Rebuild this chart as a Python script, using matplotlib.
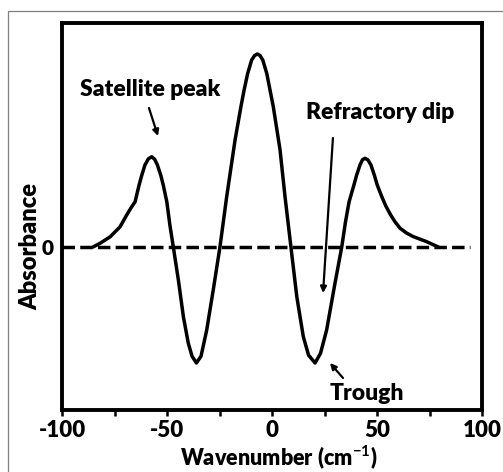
import matplotlib.pyplot as plt
from matplotlib.patches import Rectangle

# Curva de absorbancia (unidades arbitrarias, pico central ~ 1)
wavenumber = [-85.2, -81.9, -77.1, -72.4, -69.2, -67.2, -65.2, -63.3, -62.0, -60.5,
              -58.9, -57.3, -55.9, -54.6, -53.0, -51.8, -50.1, -48.6, -47.0, -44.6,
              -42.2, -39.9, -38.1, -36.0, -33.8, -31.1, -28.0, -24.8, -21.6, -17.6,
              -14.8, -13.3, -11.6, -9.7, -8.3, -7.0, -5.7, -4.4, -2.5, -0.95,
              0.6, 3.8, 6.2, 9.0, 11.8, 14.9, 17.4, 20.5, 23.1, 26.0,
              30.0, 33.2, 35.0, 36.7, 39.0, 40.3, 41.9, 43.1, 44.3, 45.7,
              47.1, 48.7, 50.1, 52.2, 54.2, 56.2, 58.5, 61.0, 64.0, 67.3,
              70.5, 73.7, 76.5, 79.2]
absorbance = [0.0, 0.019, 0.052, 0.103, 0.164, 0.20, 0.232, 0.318, 0.369, 0.421,
              0.452, 0.463, 0.450, 0.421, 0.369, 0.318, 0.232, 0.11, 0.0, -0.169,
              -0.358, -0.492, -0.56, -0.595, -0.56, -0.426, -0.221, 0.0, 0.257, 0.549,
              0.72, 0.805, 0.89, 0.959, 0.982, 0.99, 0.982, 0.959, 0.89, 0.805,
              0.72, 0.5, 0.257, 0.0, -0.255, -0.46, -0.555, -0.595, -0.545, -0.426,
              -0.185, 0.0, 0.13, 0.232, 0.318, 0.369, 0.421, 0.448, 0.455, 0.446,
              0.421, 0.369, 0.318, 0.26, 0.21, 0.17, 0.13, 0.096, 0.072, 0.053,
              0.04, 0.027, 0.013, 0.0]

xticks = [-100, -50, 0, 50, 100]
xticks_minor = [-75, -25, 25, 75]
baseline_x = [-100, 94.3]
baseline_y = [0, 0]

fuente = 'Lato'
peso = 'heavy'
plt.rcParams['mathtext.fontset'] = 'custom'
plt.rcParams['mathtext.bf'] = 'Lato:bold'
plt.rcParams['mathtext.rm'] = 'Lato:bold'

fig = plt.figure(figsize=(5.03, 4.72), dpi=100)
ax = fig.add_axes([0.1233, 0.1314, 0.835, 0.8199])

# marco gris exterior
fig.patches.append(Rectangle((8 / 503, -0.05), 1.1, 1 - 11 / 472 + 0.05,
                             transform=fig.transFigure, fill=False,
                             edgecolor='#808080', linewidth=0.9))

lw = 2.5
ax.plot(baseline_x, baseline_y, color='black', linewidth=lw,
        linestyle=(0, (3.6, 1.5)), dash_capstyle='butt')
ax.plot(wavenumber, absorbance, color='black', linewidth=lw,
        solid_joinstyle='round', solid_capstyle='round')

ax.set_xlim(-100, 100)
ax.set_ylim(-0.836, 1.149)
ax.set_xticks(xticks)
ax.set_xticks(xticks_minor, minor=True)
ax.set_xticklabels([str(t) for t in xticks],
                   fontfamily=fuente, fontweight=peso, fontsize=16)
ax.set_yticks([0])
ax.set_yticklabels(['0'], fontfamily=fuente, fontweight=peso, fontsize=15)
ax.tick_params(axis='x', which='both', direction='out', length=4, width=1.8, pad=3)
ax.tick_params(axis='y', length=0, pad=6)

for s in ax.spines.values():
    s.set_linewidth(2.8)

fig.text(279 / 503, 1 - 457 / 472, r'Wavenumber (cm$^{\mathbf{-1}}$)',
         ha='center', va='center', fontfamily=fuente, fontweight=peso, fontsize=15.5)
fig.text(30 / 503, 1 - 246 / 472, 'Absorbance', rotation=90,
         ha='center', va='center', fontfamily=fuente, fontweight=peso, fontsize=17)

flecha = dict(arrowstyle='-|>', color='black', lw=1.6, mutation_scale=9,
              shrinkA=0, shrinkB=0)
ax.text(-58.1, 0.806, 'Satellite peak', ha='center', va='center',
        fontfamily=fuente, fontweight=peso, fontsize=16.5)
ax.annotate('', xy=(-54.3, 0.569), xytext=(-58.6, 0.713), arrowprops=flecha)

ax.text(51.4, 0.69, 'Refractory dip', ha='center', va='center',
        fontfamily=fuente, fontweight=peso, fontsize=16.5)
ax.annotate('', xy=(24.3, -0.236), xytext=(29.0, 0.559), arrowprops=flecha)

ax.text(45.2, -0.749, 'Trough', ha='center', va='center',
        fontfamily=fuente, fontweight=peso, fontsize=16.5)
ax.annotate('', xy=(27.6, -0.595), xytext=(33.8, -0.672), arrowprops=flecha)

plt.savefig('out.png', dpi=100)
plt.close()
